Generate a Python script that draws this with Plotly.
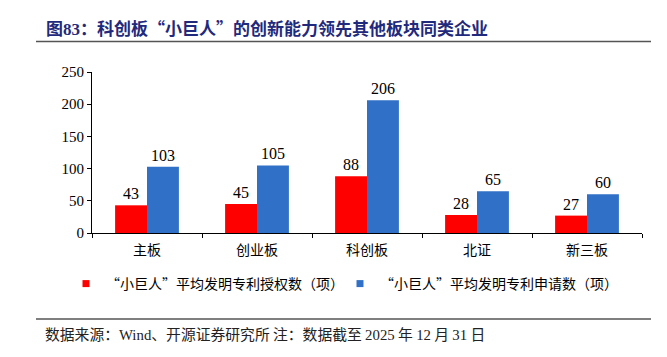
import plotly.graph_objects as go

categories = ["主板", "创业板", "科创板", "北证", "新三板"]
granted = [43, 45, 88, 28, 27]
applied = [103, 105, 206, 65, 60]
series_names = ["“小巨人”平均发明专利授权数（项）", "“小巨人”平均发明专利申请数（项）"]
series_colors = ["#FF0000", "#3070C6"]
y_ticks = [0, 50, 100, 150, 200, 250]

W, H = 667, 357
L, R, T, B = 92, 642, 72, 233

def px(x):
    return (x - L) / (R - L)

def py(y):
    return (B - y) / (B - T)

SERIF = "Liberation Serif, Noto Sans CJK SC, serif"
CJK = "Noto Sans CJK SC, Liberation Serif, sans-serif"

fig = go.Figure()
for vals, name, col in ((granted, series_names[0], series_colors[0]),
                        (applied, series_names[1], series_colors[1])):
    fig.add_trace(go.Bar(x=categories, y=vals, name=name, showlegend=False,
                         marker=dict(color=col, line=dict(width=0)),
                         text=vals, textposition="outside", cliponaxis=False,
                         textfont=dict(family=SERIF, size=16, color="#000000")))

# legend entries (small square markers, as in the reference)
for i, (name, col) in enumerate(zip(series_names, series_colors)):
    fig.add_trace(go.Scatter(x=[None], y=[None], mode="markers", name=name,
                             marker=dict(symbol="square", size=7, color=col),
                             showlegend=True, legend="legend" if i == 0 else "legend2"))

legend_common = dict(orientation="h", yanchor="middle", y=py(284), xanchor="left",
                     font=dict(family=CJK, size=14, color="#000000"),
                     bgcolor="rgba(0,0,0,0)", borderwidth=0)

fig.update_layout(
    width=W, height=H, autosize=False,
    margin=dict(l=L, r=W - R, t=T, b=H - B, pad=0),
    paper_bgcolor="white", plot_bgcolor="white",
    barmode="group", bargap=0.42, bargroupgap=0,
    font=dict(family=SERIF, size=14, color="#000000"),
    showlegend=True,
    legend=dict(x=px(66), **legend_common),
    legend2=dict(x=px(340), **legend_common),
    xaxis=dict(showline=True, linecolor="#000000", linewidth=1, ticks="outside",
               tickson="boundaries", ticklen=4, tickcolor="#000000",
               ticklabelstandoff=4,
               tickfont=dict(family=CJK, size=14, color="#000000"),
               showgrid=False, fixedrange=True),
    yaxis=dict(range=[0, 250], tickvals=y_ticks, showline=True, linecolor="#000000",
               linewidth=1, ticks="outside", ticklen=4, tickcolor="#000000",
               tickfont=dict(family=SERIF, size=15, color="#000000"),
               showgrid=False, zeroline=False, fixedrange=True),
)

fig.add_annotation(text="<b>图<span style='font-family:Liberation Serif'>83</span>：科创板“小巨人”的创新能力领先其他板块同类企业</b>",
                   xref="paper", yref="paper", x=px(44), y=py(28), xanchor="left", yanchor="middle",
                   showarrow=False, font=dict(family=CJK, size=17, color="#1F2A7C"))
fig.add_annotation(text="数据来源：<span style='font-family:Liberation Serif'>Wind</span>、开源证券研究所 注：数据截至 "
                        "<span style='font-family:Liberation Serif'>2025</span> 年 "
                        "<span style='font-family:Liberation Serif'>12</span> 月 "
                        "<span style='font-family:Liberation Serif'>31</span> 日",
                   xref="paper", yref="paper", x=px(43), y=py(333), xanchor="left", yanchor="middle",
                   showarrow=False, font=dict(family=CJK, size=14.8, color="#222222"))
for yy in (41.5, 319):
    fig.add_shape(type="line", xref="paper", yref="paper", x0=px(36), x1=px(651), y0=py(yy), y1=py(yy),
                  line=dict(color="#555555", width=1.5))

fig.write_html("out.html", config={"displayModeBar": False},
               post_script="document.body.style.margin='0';document.body.style.overflow='hidden';")
